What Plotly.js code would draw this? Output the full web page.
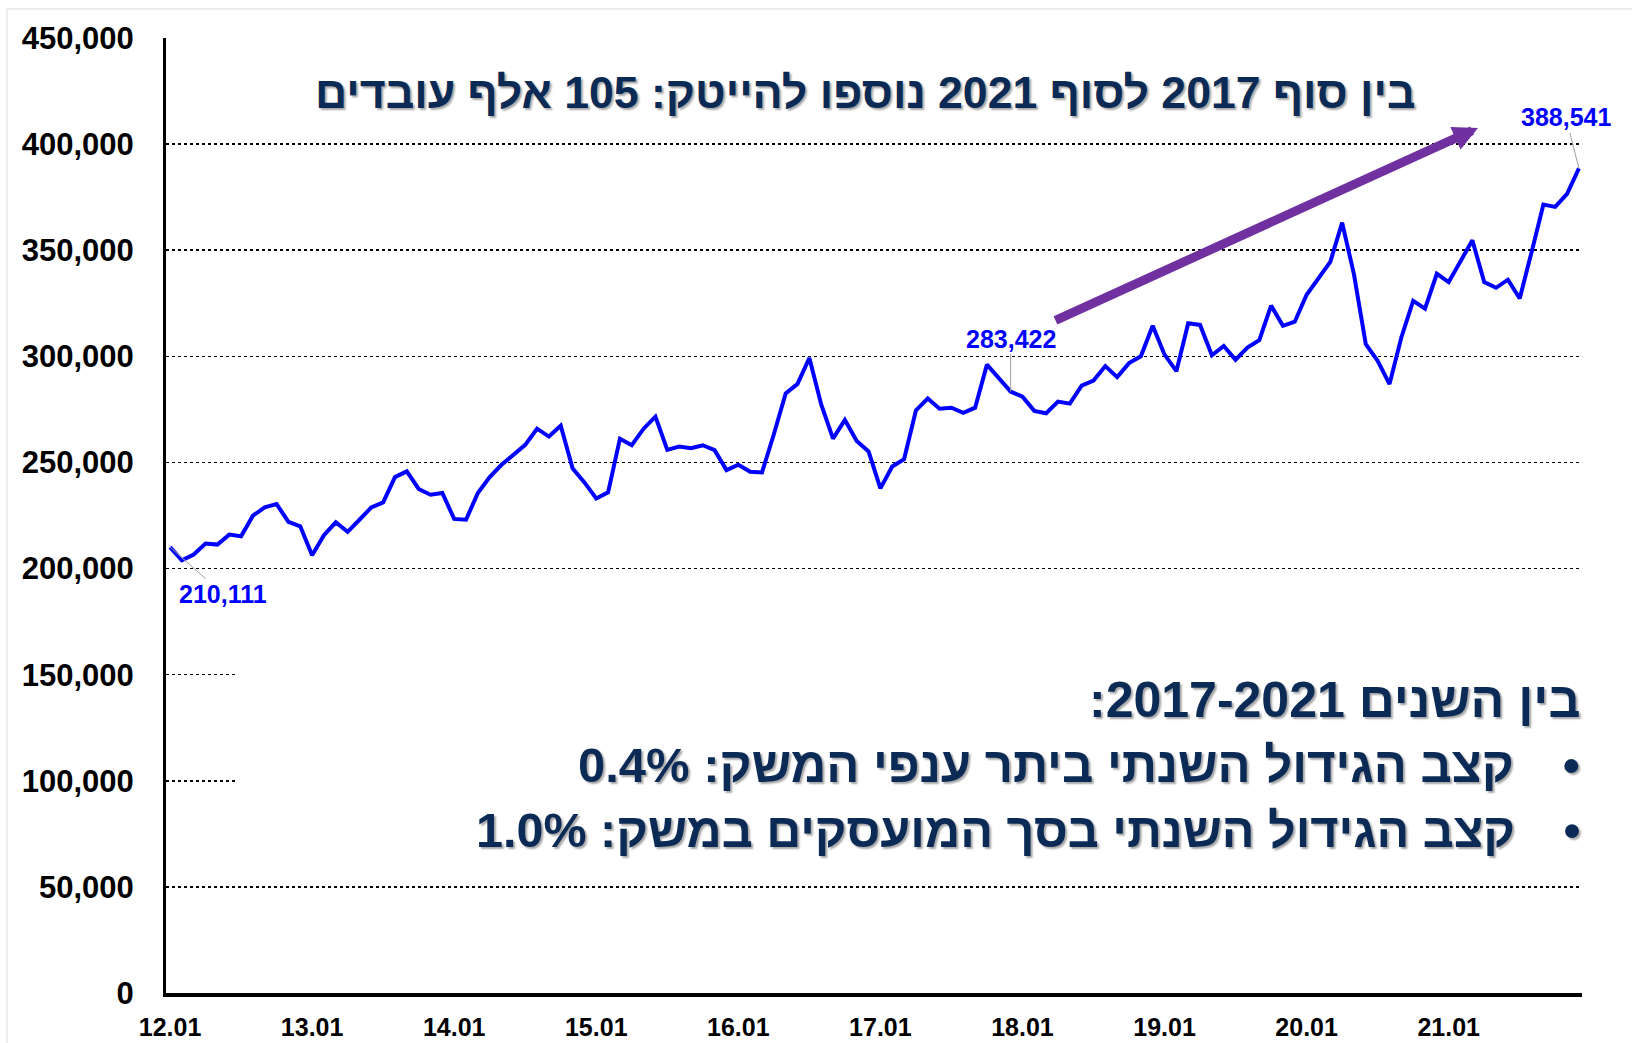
<!DOCTYPE html>
<html>
<head>
<meta charset="utf-8">
<script src="https://cdn.plot.ly/plotly-3.0.1.min.js"></script>
<style>html,body{margin:0;padding:0;background:#fff;}#chart{width:1632px;height:1043px;}</style>
</head>
<body>
<div id="chart"></div>
<script>
// Tick labels (year starts)
const yearLabels = ["12.01","13.01","14.01","15.01","16.01","17.01","18.01","19.01","20.01","21.01"];
const firstYear = 12, lastYear = 21;

// Monthly hi-tech employees, Jan 2012 - Dec 2021 (thousands)
const values2012 = [210.1,203.9,206.6,211.8,211.3,216.0,215.2,224.9,228.8,230.4,222.0,219.9];
const values2013 = [206.3,215.7,221.8,217.3,223.0,228.8,231.2,243.1,245.8,237.5,234.8,235.6];
const values2014 = [223.4,223.0,235.6,243.1,248.9,253.6,258.3,265.9,262.2,267.3,247.2,240.6];
const values2015 = [233.0,235.9,261.2,258.1,265.9,271.6,255.9,257.5,256.7,258.1,255.8,246.4];
const values2016 = [248.9,245.6,245.3,263.3,282.5,287.0,299.2,277.3,261.2,270.0,260.1,255.2];
const values2017 = [237.8,248.1,251.5,274.5,280.1,275.3,275.8,273.4,275.8,296.1,289.4,283.422];
const values2018 = [281.0,274.3,273.2,278.7,277.7,286.2,288.6,295.4,290.2,296.8,300.0,314.4];
const values2019 = [300.8,293.0,315.6,314.8,300.5,304.9,298.4,304.1,307.6,323.9,314.4,316.3];
const values2020 = [329.0,337.0,344.5,363.0,338.6,305.7,297.9,286.9,308.9,326.1,322.5,338.9];
const values2021 = [335.0,344.8,354.7,335.0,332.3,336.1,327.3,349.1,371.5,370.4,376.6,388.541];

// Labelled points
const labelStart = 210111, labelMid = 283422, labelEnd = 388541;

// Texts
const headline = "בין סוף 2017 לסוף 2021 נוספו להייטק: 105 אלף עובדים";
const boxTitle = "בין השנים 2017-2021:";
const bullet1 = "קצב הגידול השנתי ביתר ענפי המשק: 0.4%";
const bullet2 = "קצב הגידול השנתי בסך המועסקים במשק: 1.0%";

const allValues = [].concat(values2012,values2013,values2014,values2015,values2016,
                            values2017,values2018,values2019,values2020,values2021).map(v => v*1000);
allValues[0] = labelStart; allValues[71] = labelMid; allValues[119] = labelEnd;

const months = [];
for (let y = firstYear; y <= lastYear; y++) {
  for (let m = 1; m <= 12; m++) months.push(y + "." + (m < 10 ? "0" + m : m));
}
const xIdx = months.map((_, i) => i);
const tickIdx = yearLabels.map(l => months.indexOf(l));

const NAVY = "#0B2B56";
const RLE = "\u202B", PDF = "\u202C";
const rtl = s => RLE + s + PDF;
const FAM = "Liberation Sans, Arial, sans-serif";
const shadowFont = (size) => ({family: FAM, size: size, color: NAVY,
  weight: 700, shadow: "2px 2px 2px rgba(0,0,0,0.35)"});

const trace = {
  x: xIdx, y: allValues, type: "scatter", mode: "lines",
  line: {color: "#0000FF", width: 4}, hoverinfo: "skip"
};

const labelFont = {family: FAM, size: 25, color: "#0000FF", weight: 700};
const fmt = v => v.toLocaleString("en-US");

const layout = {
  width: 1632, height: 1043,
  margin: {l: 166, r: 50, t: 38, b: 50},
  paper_bgcolor: "#fff", plot_bgcolor: "#fff",
  showlegend: false,
  font: {family: FAM, color: "#000"},
  xaxis: {
    range: [-0.34, 119.26], tickmode: "array", tickvals: tickIdx, ticktext: yearLabels,
    showgrid: false, zeroline: false, showline: true, linecolor: "#000", linewidth: 4,
    ticks: "", ticklabelstandoff: 9,
    tickfont: {family: FAM, size: 25, color: "#000", weight: 700}
  },
  yaxis: {
    range: [0, 450000], tickmode: "array",
    tickvals: [0,50000,100000,150000,200000,250000,300000,350000,400000,450000],
    ticktext: ["0","50,000","100,000","150,000","200,000","250,000","300,000","350,000","400,000","450,000"],
    showgrid: true, gridcolor: "#000", gridwidth: 1.5, griddash: "dot",
    zeroline: false, showline: true, linecolor: "#000", linewidth: 3,
    ticks: "", ticklabelstandoff: 23,
    tickfont: {family: FAM, size: 31, color: "#000", weight: 700}
  },
  shapes: [
    {type: "rect", xref: "paper", yref: "paper", x0: 0.0502, x1: 1.01, y0: 0.158, y1: 0.42,
     fillcolor: "#fff", line: {width: 0}, layer: "above"},
    {type: "rect", xref: "paper", yref: "paper", x0: -0.1123, x1: 1.2, y0: -0.2, y1: 1.0304,
     fillcolor: "rgba(0,0,0,0)", line: {color: "#d9d9d9", width: 1}, layer: "below"}
  ],
  annotations: [
    {x: 0, y: labelStart, xref: "x", yref: "y", text: fmt(labelStart), showarrow: true,
     arrowhead: 0, arrowwidth: 1, arrowcolor: "#a0a0a0", ax: 53, ay: 47, standoff: 0, font: labelFont},
    {x: 71, y: labelMid, xref: "x", yref: "y", text: fmt(labelMid), showarrow: true,
     arrowhead: 0, arrowwidth: 1, arrowcolor: "#a0a0a0", ax: 0, ay: -53, standoff: 0, font: labelFont},
    {x: 119, y: labelEnd, xref: "x", yref: "y", text: fmt(labelEnd), showarrow: true,
     arrowhead: 0, arrowwidth: 1, arrowcolor: "#a0a0a0", ax: -13, ay: -51, standoff: 0, font: labelFont},
    // purple trend arrow
    {x: (1478-166)/1416, y: (993-128)/955, xref: "paper", yref: "paper", text: "", showarrow: true,
     arrowhead: 2, arrowsize: 0.55, arrowwidth: 9, arrowcolor: "#7030A0", ax: -424, ay: 193, standoff: 0},
    // headline
    {x: (1418-166)/1416, y: (993-92)/955, xref: "paper", yref: "paper", xanchor: "right", yanchor: "middle",
     text: rtl(headline), showarrow: false, font: shadowFont(44.6)},
    {x: (1582-166)/1416, y: (993-700)/955, xref: "paper", yref: "paper", xanchor: "right", yanchor: "middle",
     text: rtl(boxTitle), showarrow: false, font: shadowFont(50)},
    {x: (1582-166)/1416, y: (993-765)/955, xref: "paper", yref: "paper", xanchor: "right", yanchor: "middle",
     text: rtl("•\u2003" + bullet1), showarrow: false, font: shadowFont(49)},
    {x: (1582-166)/1416, y: (993-830)/955, xref: "paper", yref: "paper", xanchor: "right", yanchor: "middle",
     text: rtl("•\u2003" + bullet2), showarrow: false, font: shadowFont(48.5)}
  ]
};

Plotly.newPlot("chart", [trace], layout, {displayModeBar: false, staticPlot: true});
</script>
</body>
</html>
